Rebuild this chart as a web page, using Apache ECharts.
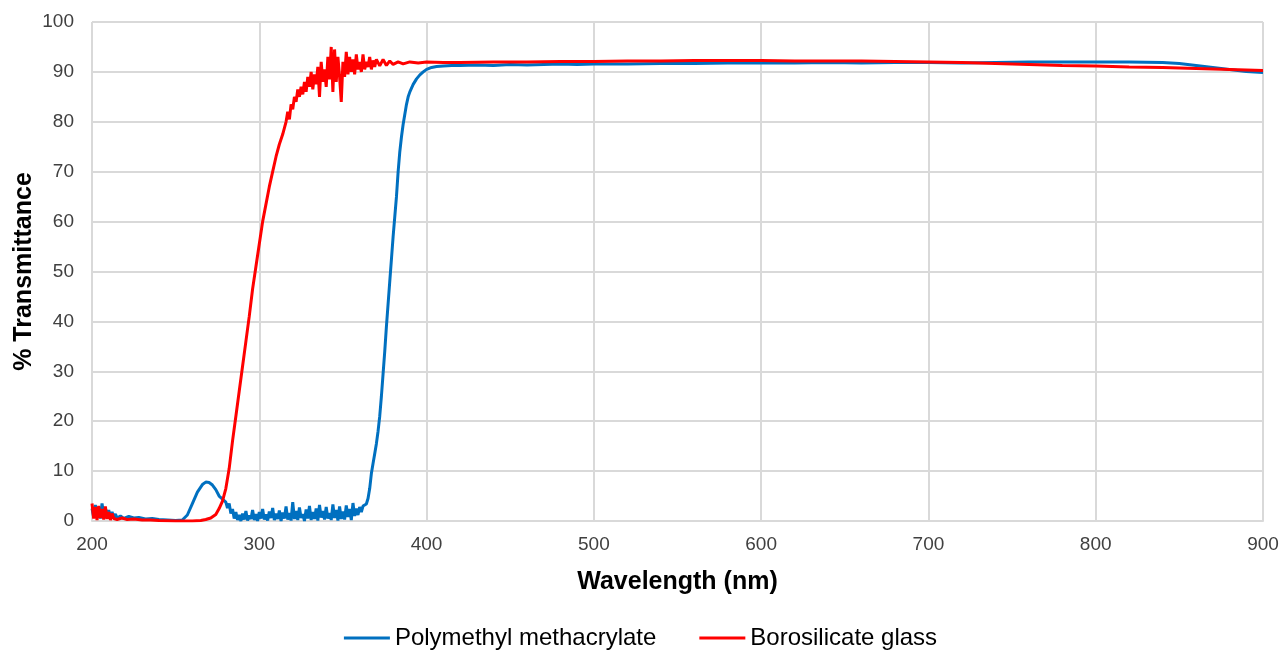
<!DOCTYPE html>
<html>
<head>
<meta charset="utf-8">
<script src="https://cdn.jsdelivr.net/npm/echarts@6/dist/echarts.min.js"></script>
<style>html,body{margin:0;padding:0;background:#fff}#c{width:1281px;height:651px}</style>
</head>
<body>
<div id="c"></div>
<script>
// Polymethyl methacrylate (PMMA)
const pmmaWl = [200,201,202,203,204,205,206,207,208,209,210,211,212,213,214,215,217,219,222,225,228,232,236,240,245,250,254,257,260,263,266,268,270,272,274,276,278,280,281,282,283,284,285,286,287,288,289,290,291,292,293,294,295,296,297,298,299,300,301,302,303,304,305,306,307,308,309,310,311,312,313,314,315,316,317,318,319,320,321,322,323,324,325,326,327,328,329,330,331,332,333,334,335,336,337,338,339,340,341,342,343,344,345,346,347,348,349,350,351,352,353,354,355,356,357,358,359,360,361,362,363,364,365,366,367,368,369,370,371,372,373,374,375,376,377,378,379,380,381,382,383,384,385,386,387,388,389,390,392,394,396,398,400,403,406,410,415,420,430,440,450,460,470,480,490,500,520,540,560,580,600,620,640,660,680,700,720,740,760,780,800,820,840,850,860,870,880,890,900];
const pmmaT = [2.5,0.8,3.2,1.0,2.8,0.5,3.5,1.2,2.6,0.9,2.2,0.6,1.8,0.7,1.4,0.6,1.0,0.5,0.9,0.6,0.7,0.4,0.5,0.3,0.2,0.1,0.2,1.2,3.5,5.8,7.3,7.8,7.7,7.2,6.3,5.0,4.4,3.8,2.6,3.5,1.5,2.4,0.5,1.8,0.2,1.2,0.0,1.5,0.3,2.0,0.1,1.1,0.4,2.2,0.2,1.4,0.0,1.8,0.5,2.4,0.3,1.3,0.1,1.9,0.6,2.6,0.2,1.5,0.4,2.1,0.0,1.7,0.5,2.9,0.3,1.6,0.1,3.8,0.4,2.0,0.2,2.7,0.6,1.4,0.0,2.3,0.5,3.0,0.2,1.8,0.4,2.5,0.1,3.2,0.7,2.0,0.3,2.8,0.5,1.6,0.2,3.3,0.6,2.2,0.1,2.9,0.4,1.9,0.3,3.1,0.8,2.4,0.2,3.6,1.0,2.5,1.2,2.8,1.8,3.0,2.6,3.4,4.5,6.5,9.5,11.5,13.5,15.5,18.0,21.0,25.0,29.5,34.0,39.0,43.5,48.0,52.5,57.0,61.0,65.0,70.0,74.0,77.0,79.5,81.5,83.5,85.0,86.0,87.5,88.6,89.4,90.0,90.5,90.9,91.1,91.2,91.3,91.3,91.4,91.3,91.5,91.4,91.5,91.6,91.5,91.6,91.6,91.7,91.7,91.8,91.8,91.8,91.9,91.8,91.9,91.9,91.8,91.9,92.0,92.0,92.0,92.0,91.9,91.7,91.3,90.9,90.5,90.1,89.9];

// Borosilicate glass
const boroWl = [200,201,202,203,204,205,206,207,208,209,210,211,212,213,214,215,218,221,225,230,235,240,250,260,265,268,271,274,276,278,280,282,284,286,288,290,292,294,296,298,300,302,304,306,308,310,312,314,316,317,318,319,320,321,322,323,324,325,326,327,328,329,330,331,332,333,334,335,336,337,338,339,340,341,342,343,344,345,346,347,348,349,350,351,352,353,354,355,356,357,358,359,360,361,362,363,364,365,366,367,368,369,370,372,374,376,378,380,383,386,390,395,400,410,420,440,460,480,500,520,540,560,580,600,620,640,660,680,700,720,740,760,780,800,820,840,860,880,900];
const boroT = [3.5,0.5,2.8,0.2,3.0,0.6,2.4,0.3,2.9,0.4,1.8,0.2,1.5,0.5,0.9,0.3,0.6,0.3,0.4,0.2,0.2,0.1,0.0,0.0,0.1,0.3,0.6,1.3,2.5,4.0,6.5,10.5,16.0,21.0,26.0,31.0,36.0,41.0,46.5,51.0,55.5,60.0,63.5,67.0,70.0,73.0,75.5,77.5,80.0,82.0,80.5,83.5,82.5,85.0,84.0,86.5,85.0,87.0,85.5,88.0,86.0,89.0,87.0,90.0,86.5,89.5,87.5,91.0,85.0,92.0,88.0,90.5,87.0,93.0,88.5,95.0,86.0,94.5,88.0,93.0,89.0,84.0,92.0,89.0,94.0,89.5,93.0,90.0,92.5,89.5,93.5,90.5,92.0,90.0,93.5,90.5,92.0,91.0,93.0,90.5,92.3,91.0,92.5,91.2,92.5,91.3,92.2,91.5,92.0,91.6,92.0,91.8,92.0,91.9,91.9,92.0,92.0,92.1,92.1,92.2,92.2,92.3,92.3,92.3,92.2,92.2,92.2,92.1,92.0,91.9,91.7,91.5,91.3,91.2,91.0,90.9,90.7,90.5,90.3];

const xTicks = [200,300,400,500,600,700,800,900];
const yTicks = [0,10,20,30,40,50,60,70,80,90,100];

const pair = (xs, ys) => xs.map((x, i) => [x, ys[i]]);

const chart = echarts.init(document.getElementById('c'));
chart.setOption({
  animation: false,
  textStyle: { fontFamily: 'Liberation Sans, Arial, sans-serif' },
  grid: { left: 92, right: 18, top: 22, bottom: 130, containLabel: false, outerBoundsMode: 'none' },
  xAxis: {
    type: 'value', min: xTicks[0], max: xTicks[xTicks.length - 1], interval: 100,
    name: 'Wavelength (nm)', nameLocation: 'middle', nameGap: 49, nameMoveOverlap: false,
    nameTextStyle: { fontSize: 25, fontWeight: 'bold', color: '#000' },
    axisLine: { show: true, lineStyle: { color: '#d9d9d9', width: 2 } },
    axisTick: { show: false },
    axisLabel: { fontSize: 19, color: '#404040', margin: 14 },
    splitLine: { show: true, lineStyle: { color: '#d9d9d9', width: 2 } }
  },
  yAxis: {
    type: 'value', min: yTicks[0], max: yTicks[yTicks.length - 1], interval: 10,
    name: '% Transmittance', nameLocation: 'middle', nameGap: 55, nameRotate: 90, nameMoveOverlap: false,
    nameTextStyle: { fontSize: 25, fontWeight: 'bold', color: '#000' },
    axisLine: { show: false },
    axisTick: { show: false },
    axisLabel: { fontSize: 19, color: '#404040', margin: 18 },
    splitLine: { show: true, lineStyle: { color: '#d9d9d9', width: 2 } }
  },
  legend: {
    top: 621, left: 'center', itemWidth: 46, itemHeight: 3, itemGap: 43,
    icon: 'rect',
    textStyle: { fontSize: 24, color: '#000' },
    data: ['Polymethyl methacrylate', 'Borosilicate glass']
  },
  series: [
    { name: 'Polymethyl methacrylate', type: 'line', showSymbol: false, symbol: 'none',
      data: pair(pmmaWl, pmmaT), lineStyle: { color: '#0070C0', width: 3 }, itemStyle: { color: '#0070C0' } },
    { name: 'Borosilicate glass', type: 'line', showSymbol: false, symbol: 'none',
      data: pair(boroWl, boroT), lineStyle: { color: '#FF0000', width: 3 }, itemStyle: { color: '#FF0000' } }
  ]
});
</script>
</body>
</html>
